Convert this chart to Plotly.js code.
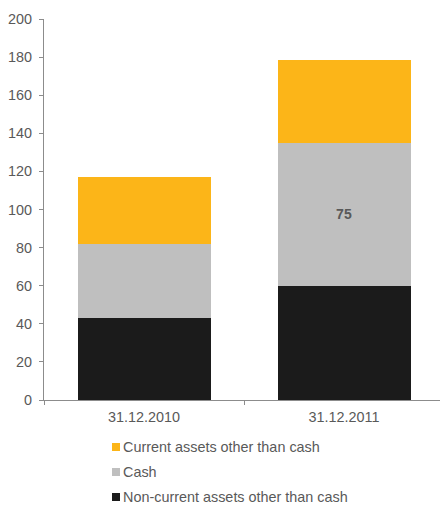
<!DOCTYPE html>
<html>
<head>
<meta charset="utf-8">
<script src="https://cdn.plot.ly/plotly-3.0.1.min.js"></script>
<style>html,body{margin:0;padding:0;background:#fff;}#chart{width:440px;height:506px;}</style>
</head>
<body>
<div id="chart"></div>
<script>
const categories = ['31.12.2010', '31.12.2011'];
const seriesNames = ['Non-current assets other than cash', 'Cash', 'Current assets other than cash'];
const nonCurrent = [43, 60];
const cash = [39, 75];
const currentOther = [35, 43.5];
const cashLabels = ['', '75'];
const colors = ['#1b1b1b', '#bfbfbf', '#fcb518'];

const font = {family: 'Liberation Sans, Arial, sans-serif', size: 14.4, color: '#595959'};

const traces = [
  {type: 'bar', x: categories, y: nonCurrent, name: seriesNames[0], marker: {color: colors[0]}, hoverinfo: 'none'},
  {type: 'bar', x: categories, y: cash, name: seriesNames[1], marker: {color: colors[1]},
   text: cashLabels, textposition: 'inside', insidetextanchor: 'middle',
   textfont: {family: 'Liberation Sans, Arial, sans-serif', size: 14, color: '#595959', weight: 'bold'}, hoverinfo: 'none'},
  {type: 'bar', x: categories, y: currentOther, name: seriesNames[2], marker: {color: colors[2]}, hoverinfo: 'none'}
];

// custom legend (top to bottom: reversed order)
const legendOrder = [2, 1, 0];
const shapes = [];
const annotations = [];
const l = 44, t = 19, W = 396, H = 381;
legendOrder.forEach((idx, i) => {
  const cy = 447 + i * 25;
  const px = v => (v - l) / W;
  const py = v => (t + H - v) / H;
  shapes.push({type: 'rect', xref: 'paper', yref: 'paper',
    x0: px(112), x1: px(120), y0: py(cy + 4), y1: py(cy - 4),
    fillcolor: colors[idx], line: {width: 0}});
  annotations.push({xref: 'paper', yref: 'paper', x: px(121), y: py(cy),
    xanchor: 'left', yanchor: 'middle', showarrow: false,
    text: seriesNames[idx], font: font});
});

const layout = {
  width: 440, height: 506,
  margin: {l: 44, r: 0, t: 19, b: 106, pad: 0},
  paper_bgcolor: '#fff', plot_bgcolor: '#fff',
  barmode: 'stack', bargap: 0.335,
  showlegend: false,
  font: font,
  xaxis: {
    type: 'category', range: [-0.5, 1.48],
    showline: true, linecolor: '#8c8c8c', linewidth: 1,
    ticks: 'outside', ticklen: 4, tickcolor: '#8c8c8c', tickson: 'boundaries',
    ticklabelstandoff: 4,
    showgrid: false, zeroline: false, tickfont: font, fixedrange: true
  },
  yaxis: {
    range: [0, 200], dtick: 20,
    showline: true, linecolor: '#8c8c8c', linewidth: 1,
    ticks: 'outside', ticklen: 4, tickcolor: '#8c8c8c',
    ticklabelstandoff: 4,
    showgrid: false, zeroline: false, tickfont: font, fixedrange: true
  },
  shapes: shapes,
  annotations: annotations
};

Plotly.newPlot('chart', traces, layout, {displayModeBar: false, staticPlot: true});
</script>
</body>
</html>
